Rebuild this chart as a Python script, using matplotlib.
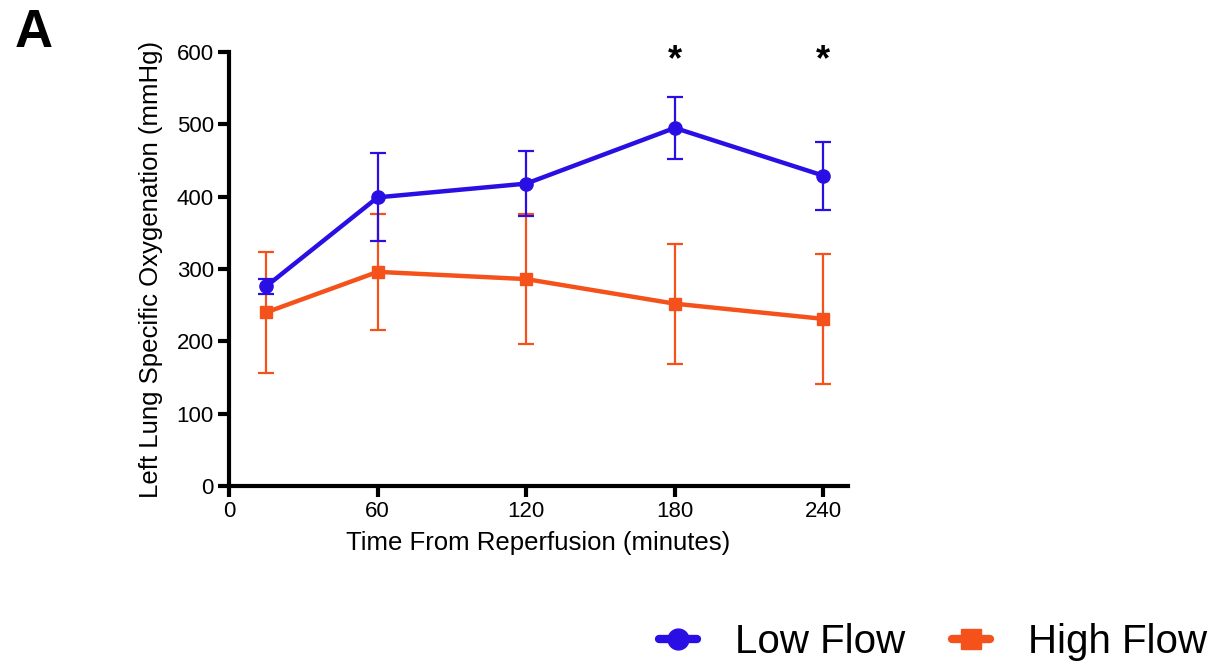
import matplotlib
matplotlib.use("Agg")
import matplotlib.pyplot as plt
from matplotlib.lines import Line2D

# time points (minutes after reperfusion)
minutes = [15, 60, 120, 180, 240]

# left lung specific oxygenation, mean and error (mmHg)
low_mean = [276, 399, 418, 495, 429]
low_err = [10, 61, 45, 43, 47]
high_mean = [240, 296, 286, 252, 231]
high_err = [84, 80, 90, 83, 90]

# time points that differ significantly
sig_minutes = [180, 240]

x_ticks = [0, 60, 120, 180, 240]
y_ticks = [0, 100, 200, 300, 400, 500, 600]

BLUE = "#2a0fe4"
ORANGE = "#f4521a"

plt.rcParams["font.family"] = ["Liberation Sans", "DejaVu Sans"]

fig = plt.figure(figsize=(12.12, 6.62), dpi=100)
ax = fig.add_axes([0.189, 0.2659, 0.5108, 0.6556])

ax.errorbar(minutes, high_mean, yerr=high_err, color=ORANGE, lw=3.2,
            marker="s", ms=9, elinewidth=1.6, capsize=6, capthick=1.6,
            zorder=2)
ax.errorbar(minutes, low_mean, yerr=low_err, color=BLUE, lw=3.2,
            marker="o", ms=9.5, elinewidth=1.6, capsize=6, capthick=1.6,
            zorder=3)

for m in sig_minutes:
    ax.text(m, 588, "*", ha="center", va="center", fontsize=26,
            fontweight="bold")

ax.set_xlim(0, 250)
ax.set_ylim(0, 600)
ax.set_xticks(x_ticks)
ax.set_yticks(y_ticks)
for s in ("top", "right"):
    ax.spines[s].set_visible(False)
for s in ("left", "bottom"):
    ax.spines[s].set_linewidth(3)
ax.tick_params(width=3, length=8, labelsize=16, pad=3)

ax.set_xlabel("Time From Reperfusion (minutes)", fontsize=18.5, labelpad=6)
ax.set_ylabel("Left Lung Specific Oxygenation (mmHg)", fontsize=18.5,
              labelpad=10)

fig.text(0.012, 0.95, "A", fontsize=38, fontweight="bold", va="center")

# legend keys: plain line + marker, no error bars
handles = [
    Line2D([], [], color=BLUE, lw=6, marker="o", ms=15, solid_capstyle="round"),
    Line2D([], [], color=ORANGE, lw=6, marker="s", ms=14, solid_capstyle="round"),
]
fig.legend(handles, ["Low Flow", "High Flow"], loc="center right",
           bbox_to_anchor=(1.026, 0.03), ncol=2, frameon=False,
           fontsize=29, handlelength=0.95, handletextpad=0.95,
           columnspacing=1.15)

fig.savefig("out.png", dpi=100)
